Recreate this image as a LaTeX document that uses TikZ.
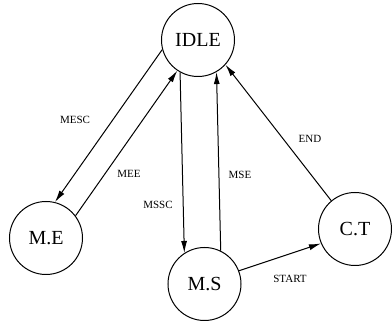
\documentclass[tikz,border=0pt]{standalone}
\usepackage{fontspec}
\setmainfont{Liberation Serif}
\newfontfamily\statefont{Liberation Serif}
\usetikzlibrary{arrows.meta, positioning}

\begin{document}
\begin{tikzpicture}[
    x=1pt, y=-1pt,
    state/.style={circle, draw, line width=1pt, minimum size=73pt, inner sep=0pt, font=\statefont\fontsize{20}{22}\selectfont},
    arrow/.style={-{Latex[length=12pt, width=6pt]}, line width=1pt},
    lbl/.style={font=\statefont\fontsize{11}{12}\selectfont, inner sep=0pt}
]
    \useasboundingbox (0,0) rectangle (392,323);

    % States
    \node[state] (idle) at (198,40) {IDLE};
    \node[state] (me) at (46,238) {M.E};
    \node[state] (ms) at (204.5,284) {M.S};
    \node[state] (ct) at (355,229) {C.T};

    % Transitions
    \draw[arrow] (idle.195) -- (me.76);
    \draw[arrow] (me.37) -- (idle.236);
    \draw[arrow] (idle.241) -- (ms.123);
    \draw[arrow] (ms.64) -- (idle.300);
    \draw[arrow] (ct.130) -- (idle.318);
    \draw[arrow] (ms.21) -- (ct.203);

    % Labels
    \node[lbl] (mesc) at (75,120) {MESC};
    \node[lbl] (mee) at (129,174) {MEE};
    \node[lbl] (mssc) at (158,205) {MSSC};
    \node[lbl] (mse) at (240,175) {MSE};
    \node[lbl] (end) at (310,139) {END};
    \node[lbl] (start) at (290,279) {START};

\end{tikzpicture}
\end{document}
